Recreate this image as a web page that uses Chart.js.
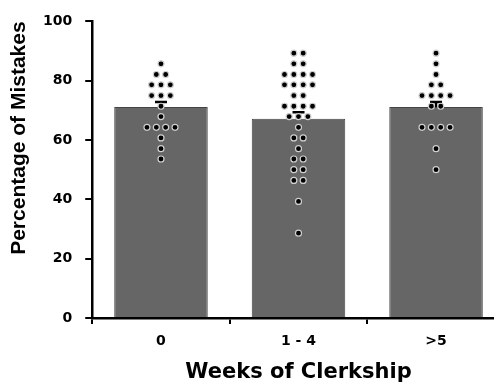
<!DOCTYPE html>
<html>
<head>
<meta charset="utf-8">
<title>Percentage of Mistakes by Weeks of Clerkship</title>
<script src="https://cdn.jsdelivr.net/npm/chart.js@4.4.1/dist/chart.umd.min.js"></script>
<style>
	html, body { margin: 0; padding: 0; background: #fff; overflow: hidden; }
	#wrap { width: 510px; height: 385px; }
</style>
</head>
<body>
<div id="wrap"><canvas id="mistakesChart"></canvas></div>
<script>
// data
const categories = ['0', '1 - 4', '>5'];
const meanValues = [71.1, 67.2, 71.1];
const semValues = [1.7, 2.2, 1.7];
const yTicks = [0, 20, 40, 60, 80, 100];

// individual students, per group
const group0 = [85.7, 82.1, 82.1, 78.6, 78.6, 78.6, 75.0, 75.0, 75.0, 71.4, 67.9,
	64.3, 64.3, 64.3, 64.3, 60.7, 57.1, 53.6];
const group1 = [89.3, 89.3, 85.7, 85.7, 82.1, 82.1, 82.1, 82.1, 78.6, 78.6, 78.6, 78.6,
	75.0, 75.0, 71.4, 71.4, 71.4, 71.4, 67.9, 67.9, 67.9, 64.3, 60.7, 60.7, 57.1,
	53.6, 53.6, 50.0, 50.0, 46.4, 46.4, 39.3, 28.6];
const group2 = [89.3, 85.7, 82.1, 78.6, 78.6, 75.0, 75.0, 75.0, 75.0, 71.4, 71.4,
	64.3, 64.3, 64.3, 64.3, 57.1, 50.0];

const dotGap = 0.068; // spacing of tied dots, in category units

// spread tied values side by side, centred on the group
function swarm(values, groupIndex) {
	const counts = {};
	values.forEach((v) => { counts[v] = (counts[v] || 0) + 1; });
	const seen = {};
	return values.map((v) => {
		seen[v] = seen[v] === undefined ? 0 : seen[v] + 1;
		return { x: groupIndex + (seen[v] - (counts[v] - 1) / 2) * dotGap, y: v };
	});
}

const dots = [group0, group1, group2].flatMap((g, i) => swarm(g, i));

// upper half of the SEM bars, drawn between bars and dots
const errorBars = {
	id: 'errorBars',
	afterDatasetDraw(chart, args) {
		if (args.index !== 0) return;
		const { ctx } = chart;
		const x = chart.scales.x;
		const y = chart.scales.y;
		ctx.save();
		ctx.strokeStyle = '#000';
		ctx.lineWidth = 2.5;
		meanValues.forEach((m, i) => {
			const px = x.getPixelForValue(i);
			const top = y.getPixelForValue(m + semValues[i]);
			const base = y.getPixelForValue(m);
			ctx.beginPath();
			ctx.moveTo(px, base);
			ctx.lineTo(px, top);
			ctx.moveTo(px - 6, top);
			ctx.lineTo(px + 6, top);
			ctx.stroke();
		});
		ctx.restore();
	},
};

const tickFont = { family: 'DejaVu Sans', weight: 'bold', size: 14 };

const ctx = document.getElementById('mistakesChart').getContext('2d');
const mistakesChart = new Chart(ctx, {
	type: 'bar',
	data: {
		labels: categories,
		datasets: [{
			type: 'bar',
			label: 'Mean',
			data: meanValues,
			order: 2,
			grouped: false,
			backgroundColor: '#666666',
			borderColor: '#444444',
			borderWidth: 1,
			categoryPercentage: 1,
			barPercentage: 0.68,
		}, {
			type: 'scatter',
			label: 'Students',
			data: dots,
			xAxisID: 'x2',
			order: 1,
			pointRadius: 3,
			pointBackgroundColor: '#000',
			pointBorderColor: '#d0d0d0',
			pointBorderWidth: 1.2,
		}],
	},
	options: {
		responsive: true,
		maintainAspectRatio: false,
		animation: false,
		layout: { padding: { top: 21, left: 9, right: 0, bottom: 0 } },
		plugins: {
			legend: { display: false },
			tooltip: { enabled: false },
		},
		scales: {
			x: {
				type: 'category',
				offset: true,
				grid: {
					offset: true,
					drawOnChartArea: false,
					drawTicks: true,
					tickLength: 6,
					color: '#000',
					lineWidth: 2,
				},
				border: { color: '#000', width: 2.5 },
				ticks: { font: tickFont, color: '#000', padding: 9 },
				title: {
					display: true,
					text: 'Weeks of Clerkship',
					color: '#000',
					font: { family: 'DejaVu Sans', weight: 'bold', size: 21 },
					padding: { top: 1, bottom: 0 },
				},
			},
			x2: {
				type: 'linear',
				display: false,
				offset: false,
				min: -0.5,
				max: 2.5,
			},
			y: {
				min: 0,
				max: 100,
				afterBuildTicks: (scale) => {
					scale.ticks = yTicks.map((v) => ({ value: v }));
				},
				grid: {
					drawOnChartArea: false,
					drawTicks: true,
					tickLength: 7,
					color: '#000',
					lineWidth: 2,
				},
				border: { color: '#000', width: 2.5 },
				ticks: { font: tickFont, color: '#000', padding: 13 },
				title: {
					display: true,
					text: 'Percentage of Mistakes',
					align: 'end',
					color: '#000',
					font: { family: 'Liberation Sans', weight: 'bold', size: 21, lineHeight: 1 },
					padding: { top: 0, bottom: 0 },
				},
			},
		},
	},
	plugins: [errorBars],
});
</script>
</body>
</html>
